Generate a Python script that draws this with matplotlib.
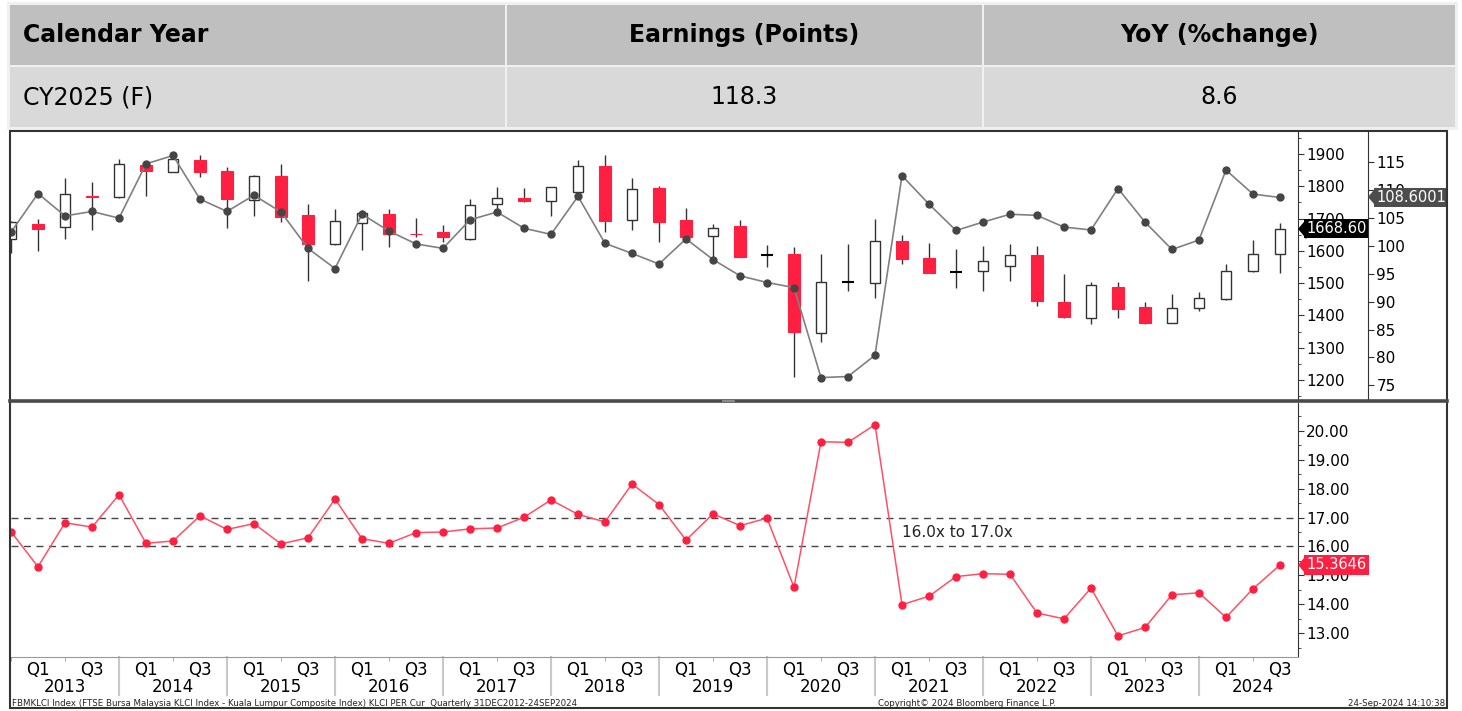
import matplotlib
matplotlib.use("Agg")
import matplotlib.pyplot as plt
import matplotlib.transforms as mtrans
from matplotlib.patches import Rectangle
from matplotlib.lines import Line2D
import numpy as np

plt.rcParams["font.family"] = "DejaVu Sans"

# ---- data ----
table_cols = ["Calendar Year", "Earnings (Points)", "YoY (%change)"]
table_vals = ["CY2025 (F)", "118.3", "8.6"]

years = list(range(2013, 2025))

# quarterly KLCI candles, Q4 2012 .. Q3 2024
opens  = [1636, 1684, 1673, 1771, 1766, 1866, 1845, 1881, 1847, 1757, 1831, 1710,
          1622, 1686, 1715, 1653, 1659, 1638, 1744, 1763, 1755, 1783, 1864, 1695,
          1796, 1695, 1647, 1676, 1587, 1591, 1345, 1504, 1500, 1629, 1579, 1535,
          1537, 1552, 1588, 1443, 1393, 1487, 1426, 1378, 1423, 1451, 1536, 1590]
highs  = [1692, 1700, 1826, 1812, 1883, 1871, 1892, 1897, 1860, 1834, 1869, 1744,
          1728, 1727, 1730, 1702, 1680, 1760, 1798, 1794, 1797, 1881, 1897, 1826,
          1801, 1733, 1682, 1696, 1617, 1613, 1591, 1620, 1698, 1648, 1624, 1606,
          1615, 1621, 1615, 1528, 1502, 1502, 1440, 1466, 1472, 1558, 1634, 1685]
lows   = [1592, 1599, 1636, 1664, 1763, 1771, 1843, 1830, 1672, 1707, 1690, 1505,
          1617, 1602, 1613, 1642, 1626, 1633, 1730, 1752, 1709, 1769, 1659, 1666,
          1626, 1642, 1575, 1582, 1549, 1209, 1317, 1475, 1453, 1559, 1531, 1485,
          1477, 1505, 1430, 1392, 1374, 1393, 1372, 1378, 1413, 1449, 1534, 1530]
closes = [1689, 1669, 1775, 1768, 1868, 1848, 1883, 1845, 1761, 1831, 1705, 1620,
          1693, 1718, 1653, 1651, 1642, 1741, 1765, 1754, 1797, 1864, 1691, 1793,
          1688, 1642, 1672, 1582, 1587, 1350, 1502, 1504, 1629, 1574, 1531, 1535,
          1568, 1588, 1445, 1394, 1493, 1421, 1376, 1424, 1454, 1537, 1590, 1669]

eps = [102.4, 109.3, 105.3, 106.1, 104.9, 114.6, 116.1, 108.3, 106.1, 109.0,
       106.0, 99.5, 95.9, 105.6, 102.6, 100.3, 99.5, 104.6, 106.0, 103.1,
       102.0, 108.8, 100.4, 98.6, 96.7, 101.2, 97.5, 94.6, 93.4, 92.5,
       76.4, 76.6, 80.4, 112.5, 107.4, 102.7, 104.2, 105.6, 105.4, 103.3,
       102.8, 110.2, 104.2, 99.3, 101.0, 113.5, 109.2, 108.6]

per = [16.51, 15.30, 16.82, 16.67, 17.79, 16.11, 16.19, 17.06, 16.59, 16.79,
       16.09, 16.30, 17.64, 16.27, 16.11, 16.48, 16.50, 16.61, 16.64, 17.01,
       17.61, 17.11, 16.85, 18.16, 17.45, 16.22, 17.13, 16.72, 16.98, 14.59,
       19.62, 19.60, 20.21, 13.99, 14.28, 14.96, 15.06, 15.04, 13.70, 13.50,
       14.56, 12.91, 13.20, 14.33, 14.40, 13.55, 14.54, 15.36]

last_px, last_eps, last_per = "1668.60", "108.6001", "15.3646"
band_lo, band_hi = 16.0, 17.0

RED = "#ff1f40"
RED_LINE = "#ff5066"
DARK = "#333333"

W, H = 1462, 711
def fx(px): return px / W
def fy(py): return 1 - py / H

fig = plt.figure(figsize=(W / 100, H / 100), dpi=100)

# ---- table on top ----
fig.add_artist(Rectangle((fx(7), fy(130)), fx(1458) - fx(7), fy(2) - fy(130),
                         transform=fig.transFigure, fc="#f0f0f0", ec="none"))
col_edges = [(10, 505), (507, 982), (984, 1455)]
rows = [(5, 65, "#bfbfbf", table_cols, "bold"), (67, 127, "#d9d9d9", table_vals, "normal")]
for y0, y1, fc, texts, wt in rows:
    for (x0, x1), t in zip(col_edges, texts):
        fig.add_artist(Rectangle((fx(x0), fy(y1)), fx(x1) - fx(x0), fy(y0) - fy(y1),
                                 transform=fig.transFigure, fc=fc, ec="none"))
        if x0 == 10:
            fig.text(fx(23), fy((y0 + y1) / 2), t, ha="left", va="center",
                     fontsize=17, fontweight=wt, color="black")
        else:
            fig.text(fx((x0 + x1) / 2), fy((y0 + y1) / 2), t, ha="center", va="center",
                     fontsize=17, fontweight=wt, color="black")

# ---- axes ----
ax_top = fig.add_axes([fx(11), fy(400), fx(1298) - fx(11), fy(132) - fy(400)])
ax_bot = fig.add_axes([fx(11), fy(657), fx(1298) - fx(11), fy(403) - fy(657)])
ax_eps = ax_top.twinx()

n = len(closes)
x = np.arange(n)
xmax = (1298 - 11) / 27.0
eps_spine = (1368 - 11) / (1298 - 11)

# candles
for i in range(n):
    o, h, l, c = opens[i], highs[i], lows[i], closes[i]
    ax_top.vlines(i, l, h, color=DARK, lw=1, zorder=2)
    if c == o:
        ax_top.hlines(c, i - 0.22, i + 0.22, color="black", lw=1.5, zorder=3)
    elif c > o:
        ax_top.bar(i, c - o, bottom=o, width=0.36, facecolor="white",
                   edgecolor=DARK, lw=1, zorder=3)
    else:
        ax_top.bar(i, o - c, bottom=c, width=0.42, facecolor=RED,
                   edgecolor=RED, lw=0.8, zorder=3)

ax_top.set_xlim(0, xmax)
ax_top.set_ylim(1138, 1968)
ax_top.set_xticks([])
ax_top.yaxis.tick_right()
ax_top.set_yticks(range(1200, 1901, 100))
ax_top.set_yticks(range(1150, 1951, 50), minor=True)
ax_top.tick_params(axis="y", which="major", direction="out", length=4, pad=2,
                   labelsize=11, color=DARK)
ax_top.tick_params(axis="y", which="minor", direction="out", length=2.5, color=DARK)
for s in ["top", "left", "bottom"]:
    ax_top.spines[s].set_visible(False)
ax_top.spines["right"].set_color(DARK)

# earnings line
ax_eps.plot(x, eps, color="#808080", lw=1.2, zorder=4)
ax_eps.plot(x, eps, "o", color="#454545", ms=5, zorder=5)
ax_eps.set_ylim(72.4, 120.3)
ax_eps.set_yticks(range(75, 116, 5))
ax_eps.spines["right"].set_position(("axes", eps_spine))
for s in ["top", "left", "bottom"]:
    ax_eps.spines[s].set_visible(False)
ax_eps.spines["right"].set_color(DARK)
ax_eps.tick_params(axis="y", direction="out", length=4, pad=2, labelsize=11, color=DARK)

# PER line
ax_bot.plot(x, per, color=RED_LINE, lw=1.1, zorder=3)
ax_bot.plot(x, per, "o", color=RED, ms=5, zorder=4)
ax_bot.axhline(band_hi, color="#444444", lw=1, ls=(0, (5, 4)), zorder=2)
ax_bot.axhline(band_lo, color="#444444", lw=1, ls=(0, (5, 4)), zorder=2)
ax_bot.text(33.0, (band_lo + band_hi) / 2, "16.0x to 17.0x", ha="left", va="center",
            fontsize=11, color="#222222")
ax_bot.set_xlim(0, xmax)
ax_bot.set_ylim(12.18, 20.96)
ax_bot.yaxis.tick_right()
ax_bot.set_yticks(np.arange(13, 20.5, 1.0))
ax_bot.set_yticklabels([f"{v:.2f}" for v in np.arange(13, 20.5, 1.0)])
ax_bot.set_yticks(np.arange(12.5, 21.0, 0.5), minor=True)
ax_bot.tick_params(axis="y", which="major", direction="out", length=4, pad=2,
                   labelsize=11, color=DARK)
ax_bot.tick_params(axis="y", which="minor", direction="out", length=2.5, color=DARK)
for s in ["top", "left"]:
    ax_bot.spines[s].set_visible(False)
ax_bot.spines["right"].set_color(DARK)
ax_bot.spines["bottom"].set_color("#999999")

# quarter / year axis
q_pos = [4 * k + 1 for k in range(len(years))] + [4 * k + 3 for k in range(len(years))]
q_lab = ["Q1"] * len(years) + ["Q3"] * len(years)
ax_bot.set_xticks(q_pos, q_lab)
ax_bot.set_xticks(range(0, n, 2), minor=True)
ax_bot.tick_params(axis="x", which="major", length=0, pad=3, labelsize=12)
ax_bot.tick_params(axis="x", which="minor", direction="out", length=3, color="#999999")
bt = mtrans.blended_transform_factory(ax_bot.transData, ax_bot.transAxes)
for k, yr in enumerate(years):
    ax_bot.annotate(str(yr), xy=(4 * k + 2, 0), xycoords=bt, xytext=(0, -21.6),
                    textcoords="offset points", ha="center", va="center", fontsize=12)
    if k > 0:
        ax_bot.plot([4 * k, 4 * k], [0, -38 / 254], transform=bt, color="#c8c8c8",
                    lw=1.5, clip_on=False)

# last-value tags
def tag(ax, val, text, fc, xpos=1.0):
    tr = mtrans.blended_transform_factory(ax.transAxes, ax.transData)
    ax.plot([xpos], [val], transform=tr, marker=[(0, 0), (0.42, 0.5), (0.42, -0.5)],
            ms=13, color=fc, mec=fc, clip_on=False, zorder=6)
    ax.annotate(text, xy=(xpos, val), xycoords=tr, xytext=(6, 0), textcoords="offset points",
                ha="left", va="center", fontsize=10.5, color="white", zorder=7,
                bbox=dict(boxstyle="square,pad=0.15", fc=fc, ec="none"))

tag(ax_top, float(last_px), last_px, "black")
tag(ax_eps, float(last_eps), last_eps, "#4d4d4d", xpos=eps_spine)
tag(ax_bot, float(last_per), last_per, RED)

# frame and separator
fig.add_artist(Rectangle((fx(10), fy(708)), fx(1447) - fx(10), fy(131) - fy(708),
                         transform=fig.transFigure, fill=False, ec="#333333", lw=1.5))
fig.add_artist(Line2D([fx(10), fx(1447)], [fy(401.5), fy(401.5)], transform=fig.transFigure,
                      color="#4a4a4a", lw=2.6))
fig.add_artist(Line2D([fx(723), fx(734)], [fy(401.5), fy(401.5)], transform=fig.transFigure,
                      color="#9a9a9a", lw=1.2))

# footer
fig.text(fx(12), fy(703), "FBMKLCI Index (FTSE Bursa Malaysia KLCI Index - Kuala Lumpur "
         "Composite Index) KLCI PER Cur  Quarterly 31DEC2012-24SEP2024",
         ha="left", va="center", fontsize=6.2, color="#222222")
fig.text(fx(878), fy(703), "Copyright\u00a9 2024 Bloomberg Finance L.P.", ha="left",
         va="center", fontsize=6.2, color="#222222")
fig.text(fx(1445), fy(703), "24-Sep-2024 14:10:38", ha="right", va="center",
         fontsize=6.2, color="#222222")

fig.savefig("out.png", dpi=100, facecolor="white")
